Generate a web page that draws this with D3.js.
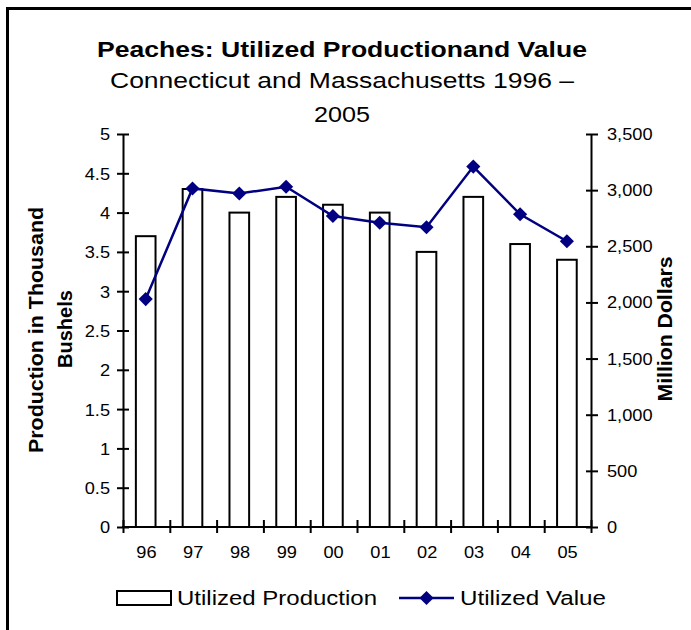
<!DOCTYPE html>
<html>
<head>
<meta charset="utf-8">
<script src="https://cdn.jsdelivr.net/npm/d3@7"></script>
<style>
  body { margin: 0; background: #fff; }
  text { font-family: "Liberation Sans", Arial, sans-serif; fill: #000; }
</style>
</head>
<body>
<script>
var years = ["96", "97", "98", "99", "00", "01", "02", "03", "04", "05"];
var production = [3.7, 4.3, 4.0, 4.2, 4.1, 4.0, 3.5, 4.2, 3.6, 3.4];
var value = [2030, 3015, 2970, 3030, 2770, 2710, 2670, 3210, 2785, 2545];
var leftTicks = [0, 0.5, 1, 1.5, 2, 2.5, 3, 3.5, 4, 4.5, 5];
var rightTicks = [0, 500, 1000, 1500, 2000, 2500, 3000, 3500];

var W = 691, H = 630;
var plot = { left: 123, right: 591, top: 134, bottom: 527 };
var navy = "#000080";

var svg = d3.select("body").append("svg")
    .attr("width", W).attr("height", H);

// the source picture is a little wider than tall, so widen text to suit
function stretch(sel, k) {
    sel.each(function () {
        var w = this.getComputedTextLength();
        d3.select(this).attr("textLength", w * k).attr("lengthAdjust", "spacingAndGlyphs");
    });
}
function fit(sel, len) {
    sel.attr("textLength", len).attr("lengthAdjust", "spacingAndGlyphs");
}

// frame (top + left edges only)
svg.append("path")
    .attr("d", "M7.5,630 V8.5 H691")
    .attr("fill", "none").attr("stroke", "#000").attr("stroke-width", 3);

var x = d3.scaleBand().domain(years).range([plot.left, plot.right]);
var xEdge = d3.scaleLinear().domain([0, years.length]).range([plot.left, plot.right]);
var yL = d3.scaleLinear().domain([0, 5]).range([plot.bottom, plot.top]);
var yR = d3.scaleLinear().domain([0, 3500]).range([plot.bottom, plot.top]);

// titles
svg.append("text").attr("x", 342).attr("y", 57).attr("text-anchor", "middle")
    .style("font-size", "21.5px").style("font-weight", "bold")
    .text("Peaches: Utilized Productionand Value").call(fit, 490);
svg.append("text").attr("x", 342).attr("y", 88).attr("text-anchor", "middle")
    .style("font-size", "22px")
    .text("Connecticut and Massachusetts 1996 \u2013").call(fit, 464);
svg.append("text").attr("x", 342).attr("y", 122).attr("text-anchor", "middle")
    .style("font-size", "22px")
    .text("2005").call(fit, 56);

// bars
var barW = x.bandwidth() * 0.42;
svg.append("g").selectAll("rect")
    .data(production)
    .enter().append("rect")
    .attr("x", function (d, i) { return x(years[i]) + x.bandwidth() / 2 - barW / 2 - 0.7; })
    .attr("y", function (d) { return yL(d); })
    .attr("width", barW)
    .attr("height", function (d) { return yL(0) - yL(d); })
    .attr("fill", "#fff").attr("stroke", "#000").attr("stroke-width", 2);

// axes
function styleAxis(g, inner, outer, vertical) {
    g.select(".domain").attr("stroke", "#000").attr("stroke-width", 2);
    g.selectAll(".tick line").attr("stroke", "#000").attr("stroke-width", 2);
    if (vertical) {
        g.selectAll(".tick line").attr("x1", inner).attr("x2", outer);
    } else {
        g.selectAll(".tick line").attr("y1", inner).attr("y2", outer);
    }
    g.selectAll(".tick text").style("font-size", "17px").attr("fill", "#000")
        .style("font-family", "'Liberation Sans', Arial, sans-serif");
}

var gL = svg.append("g").attr("transform", "translate(" + plot.left + ",0)")
    .call(d3.axisLeft(yL).tickValues(leftTicks).tickSize(6).tickSizeOuter(0).tickPadding(7)
        .tickFormat(function (d) { return String(d); }));
styleAxis(gL, 6, -6, true);
gL.selectAll(".tick text").attr("dy", "0.35em").call(stretch, 1.07);

var gR = svg.append("g").attr("transform", "translate(" + plot.right + ",0)")
    .call(d3.axisRight(yR).tickValues(rightTicks).tickSize(7).tickSizeOuter(0).tickPadding(9)
        .tickFormat(d3.format(",")));
styleAxis(gR, -5, 7, true);
gR.selectAll(".tick text").call(stretch, 1.07);

var gB = svg.append("g").attr("transform", "translate(0," + plot.bottom + ")")
    .call(d3.axisBottom(xEdge).tickValues(d3.range(years.length + 1)).tickSize(6).tickSizeOuter(0)
        .tickFormat(""));
styleAxis(gB, -7, 6, false);
gB.select(".domain").attr("d", "M" + (plot.left - 1) + ",0H" + (plot.right + 1));

var gX = svg.append("g").attr("transform", "translate(0," + plot.bottom + ")")
    .call(d3.axisBottom(x).tickSize(0).tickPadding(19));
gX.select(".domain").remove();
gX.selectAll(".tick text").style("font-size", "17px").attr("fill", "#000")
    .style("font-family", "'Liberation Sans', Arial, sans-serif")
    .call(stretch, 1.07);

// axis titles
svg.append("text")
    .attr("transform", "translate(43,330) rotate(-90)")
    .attr("text-anchor", "middle")
    .style("font-size", "21px").style("font-weight", "bold")
    .text("Production in Thousand").call(fit, 246);
svg.append("text")
    .attr("transform", "translate(72,329) rotate(-90)")
    .attr("text-anchor", "middle")
    .style("font-size", "21px").style("font-weight", "bold")
    .text("Bushels").call(fit, 78);
svg.append("text")
    .attr("transform", "translate(672,329) rotate(-90)")
    .attr("text-anchor", "middle")
    .style("font-size", "21px").style("font-weight", "bold")
    .text("Million Dollars").call(fit, 145);

// value line
var cx = function (d, i) { return x(years[i]) + x.bandwidth() / 2 - 0.7; };
var line = d3.line().x(cx).y(function (d) { return yR(d); });
svg.append("path").datum(value)
    .attr("d", line)
    .attr("fill", "none").attr("stroke", navy).attr("stroke-width", 2.5);

var diamond = d3.symbol().type(d3.symbolSquare).size(100);
svg.append("g").selectAll("path")
    .data(value)
    .enter().append("path")
    .attr("d", diamond)
    .attr("transform", function (d, i) { return "translate(" + cx(d, i) + "," + yR(d) + ") rotate(45)"; })
    .attr("fill", navy);

// legend
var lg = svg.append("g");
lg.append("rect").attr("x", 117).attr("y", 591).attr("width", 54).attr("height", 14)
    .attr("fill", "#fff").attr("stroke", "#000").attr("stroke-width", 2);
lg.append("text").attr("x", 177).attr("y", 605).style("font-size", "20.5px")
    .text("Utilized Production").call(fit, 200);
lg.append("line").attr("x1", 399).attr("x2", 454).attr("y1", 598).attr("y2", 598)
    .attr("stroke", navy).attr("stroke-width", 2.5);
lg.append("path").attr("d", diamond)
    .attr("transform", "translate(426.5,598) rotate(45)").attr("fill", navy);
lg.append("text").attr("x", 460).attr("y", 605).style("font-size", "20.5px")
    .text("Utilized Value").call(fit, 146);
</script>
</body>
</html>
